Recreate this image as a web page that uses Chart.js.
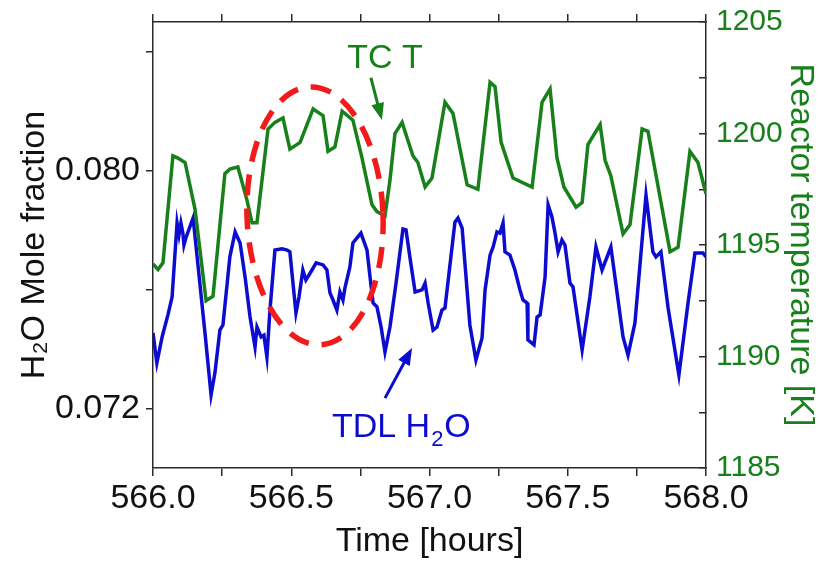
<!DOCTYPE html>
<html>
<head>
<meta charset="utf-8">
<script src="https://cdn.jsdelivr.net/npm/chart.js@4.4.0/dist/chart.umd.min.js"></script>
<style>
  body { margin: 0; background: #fff; }
</style>
</head>
<body>
<canvas id="tdlChart" width="821" height="562"></canvas>
<script>
let CHART = document.getElementById("tdlChart");

// thermocouple temperature, right axis [K]
let tcTime = [566.000, 566.018, 566.036, 566.072, 566.090, 566.116, 566.152, 566.192, 566.217, 566.260,
    566.278, 566.307, 566.340, 566.358, 566.376, 566.416, 566.441, 566.470, 566.495, 566.532,
    566.579, 566.615, 566.633, 566.658, 566.684, 566.723, 566.756, 566.792, 566.810, 566.839,
    566.857, 566.875, 566.901, 566.919, 566.940, 566.958, 566.984, 567.009, 567.056, 567.085,
    567.136, 567.175, 567.219, 567.237, 567.259, 567.302, 567.371, 567.407, 567.436, 567.461,
    567.486, 567.530, 567.552, 567.573, 567.617, 567.635, 567.656, 567.700, 567.725, 567.769,
    567.790, 567.870, 567.899, 567.942, 567.971, 568.000]
let tcTemp = [1194.15, 1193.9, 1194.2, 1199.0, 1198.9, 1198.7, 1196.6, 1192.5, 1192.7, 1198.2,
    1198.4, 1198.5, 1197.0, 1196.0, 1196.0, 1200.2, 1200.5, 1200.7, 1199.3, 1199.6,
    1201.1, 1200.8, 1199.2, 1199.4, 1201.0, 1200.6, 1198.9, 1196.8, 1196.5, 1196.3,
    1197.9, 1200.0, 1200.5, 1199.8, 1199.0, 1198.7, 1197.6, 1198.0, 1201.4, 1200.9,
    1197.7, 1197.5, 1202.3, 1202.1, 1199.6, 1198.0, 1197.6, 1201.4, 1202.0, 1198.9,
    1197.6, 1196.7, 1196.9, 1199.5, 1200.4, 1198.8, 1198.1, 1195.5, 1195.9, 1200.2,
    1200.1, 1194.7, 1194.9, 1199.2, 1198.7, 1197.3]

// TDL water mole fraction, left axis
let tdlTime = [566.000, 566.014, 566.033, 566.054, 566.069, 566.087, 566.094, 566.101, 566.108, 566.112,
    566.119, 566.145, 566.188, 566.210, 566.224, 566.242, 566.253, 566.278, 566.297, 566.315,
    566.333, 566.351, 566.369, 566.376, 566.391, 566.401, 566.412, 566.423, 566.441, 566.467,
    566.485, 566.495, 566.517, 566.528, 566.542, 566.553, 566.575, 566.590, 566.615, 566.629,
    566.640, 566.651, 566.665, 566.676, 566.687, 566.694, 566.712, 566.723, 566.752, 566.774,
    566.785, 566.796, 566.810, 566.825, 566.839, 566.857, 566.879, 566.904, 566.915, 566.929,
    566.948, 566.973, 566.984, 566.995, 567.013, 567.027, 567.045, 567.056, 567.092, 567.103,
    567.118, 567.146, 567.168, 567.190, 567.201, 567.219, 567.230, 567.244, 567.255, 567.266,
    567.273, 567.291, 567.309, 567.327, 567.338, 567.353, 567.356, 567.378, 567.389, 567.400,
    567.418, 567.429, 567.443, 567.454, 567.465, 567.479, 567.490, 567.508, 567.519, 567.552,
    567.580, 567.602, 567.624, 567.656, 567.700, 567.718, 567.743, 567.783, 567.808, 567.819,
    567.837, 567.863, 567.902, 567.935, 567.960, 567.989, 568.000]
let tdlH2O = [0.07454, 0.07353, 0.07441, 0.07515, 0.07575, 0.07824, 0.07784, 0.07824, 0.07790, 0.07750,
    0.07774, 0.07841, 0.07454, 0.07246, 0.07320, 0.07464, 0.07481, 0.07710, 0.07794, 0.07757,
    0.07642, 0.07508, 0.07407, 0.07474, 0.07441, 0.07447, 0.07373, 0.07531, 0.07733, 0.07737,
    0.07733, 0.07727, 0.07521, 0.07575, 0.07666, 0.07632, 0.07666, 0.07690, 0.07683, 0.07666,
    0.07589, 0.07565, 0.07531, 0.07592, 0.07565, 0.07605, 0.07676, 0.07757, 0.07790, 0.07733,
    0.07642, 0.07555, 0.07542, 0.07474, 0.07390, 0.07474, 0.07622, 0.07804, 0.07801, 0.07710,
    0.07592, 0.07599, 0.07622, 0.07555, 0.07464, 0.07474, 0.07531, 0.07538, 0.07827, 0.07841,
    0.07807, 0.07481, 0.07363, 0.07437, 0.07599, 0.07716, 0.07743, 0.07794, 0.07790, 0.07824,
    0.07727, 0.07716, 0.07666, 0.07599, 0.07565, 0.07555, 0.07431, 0.07414, 0.07508, 0.07515,
    0.07642, 0.07885, 0.07844, 0.07790, 0.07727, 0.07767, 0.07750, 0.07622, 0.07609, 0.07397,
    0.07575, 0.07743, 0.07666, 0.07743, 0.07441, 0.07380, 0.07488, 0.07918, 0.07727, 0.07710,
    0.07727, 0.07538, 0.07313, 0.07555, 0.07723, 0.07723, 0.07710]

// axis ticks and which of them get a label
let timeTicks = [566, 566.25, 566.5, 566.75, 567, 567.25, 567.5, 567.75, 568]
let timeLabels = [566, 566.5, 567, 567.5, 568]
let moleTicks = [0.072, 0.076, 0.080, 0.084]
let moleLabels = [0.072, 0.080]
let tempTicks = [1185, 1187.5, 1190, 1192.5, 1195, 1197.5, 1200, 1202.5, 1205]
let tempLabels = [1185, 1190, 1195, 1200, 1205]

// annotation anchors in data units
let ringCenter = [566.586, 0.07848]
let ringRadius = [0.246, 0.00434]
let tcText = [566.839, 1202.94]
let tcArrow = [566.788, 1202.5, 566.828, 1200.6]
let tdlText = [566.647, 0.07104]
let tdlArrow = [566.839, 0.07235, 566.937, 0.07404]

const GREEN = '#17801a'
const BLUE = '#0c0cd0'
const AXIS = '#2a2a2a'
const FONT = '"Liberation Sans", Arial, sans-serif'

function has(list, v) {
    return list.some(a => Math.abs(a - v) < 1e-7)
}

// keep the plot box fixed: no extra room for labels hanging over the ends
function noOverhang(s) {
    s.paddingTop = 0
    s.paddingBottom = 0
    s.paddingLeft = 0
    s.paddingRight = 0
}

function arrow(ctx, x0, y0, x1, y1, color) {
    let a = Math.atan2(y1 - y0, x1 - x0)
    let c = Math.cos(a), s = Math.sin(a)
    ctx.strokeStyle = color
    ctx.fillStyle = color
    ctx.lineWidth = 3
    ctx.setLineDash([])
    ctx.beginPath()
    ctx.moveTo(x0, y0)
    ctx.lineTo(x1 - 12 * c, y1 - 12 * s)
    ctx.stroke()
    ctx.beginPath()
    ctx.moveTo(x1, y1)
    ctx.lineTo(x1 - 17 * c + 6.5 * s, y1 - 17 * s - 6.5 * c)
    ctx.lineTo(x1 - 17 * c - 6.5 * s, y1 - 17 * s + 6.5 * c)
    ctx.closePath()
    ctx.fill()
}

const notes = {
    id: 'notes',
    afterDatasetsDraw(chart) {
        let ctx = chart.ctx
        let x = chart.scales.x, y = chart.scales.y, y1 = chart.scales.y1
        ctx.save()

        // dashed ring round the flat stretch
        let cx = x.getPixelForValue(ringCenter[0])
        let cy = y.getPixelForValue(ringCenter[1])
        let rx = x.getPixelForValue(ringCenter[0] + ringRadius[0]) - cx
        let ry = cy - y.getPixelForValue(ringCenter[1] + ringRadius[1])
        ctx.strokeStyle = '#f21a1a'
        ctx.lineWidth = 5.5
        ctx.setLineDash([21, 13])
        ctx.beginPath()
        ctx.ellipse(cx, cy, rx, ry, -0.04, 0, Math.PI * 2)
        ctx.stroke()

        // TC T label
        ctx.font = '34px ' + FONT
        ctx.textBaseline = 'alphabetic'
        ctx.textAlign = 'center'
        ctx.fillStyle = GREEN
        ctx.fillText('TC T', x.getPixelForValue(tcText[0]), y1.getPixelForValue(tcText[1]))
        arrow(ctx, x.getPixelForValue(tcArrow[0]), y1.getPixelForValue(tcArrow[1]),
            x.getPixelForValue(tcArrow[2]), y1.getPixelForValue(tcArrow[3]), GREEN)

        // TDL H2O label with subscript
        let tx = x.getPixelForValue(tdlText[0])
        let ty = y.getPixelForValue(tdlText[1])
        ctx.textAlign = 'left'
        ctx.fillStyle = BLUE
        ctx.font = '34px ' + FONT
        ctx.fillText('TDL H', tx, ty)
        tx += ctx.measureText('TDL H').width + 1
        ctx.font = '22px ' + FONT
        ctx.fillText('2', tx, ty + 9)
        tx += ctx.measureText('2').width + 1
        ctx.font = '34px ' + FONT
        ctx.fillText('O', tx, ty)
        arrow(ctx, x.getPixelForValue(tdlArrow[0]), y.getPixelForValue(tdlArrow[1]),
            x.getPixelForValue(tdlArrow[2]), y.getPixelForValue(tdlArrow[3]), BLUE)

        ctx.restore()
    }
}

let data = {
    type: 'line',
    data: {
        datasets: [
            {
                label: 'TC T',
                data: tcTime.map((t, i) => ({x: t, y: tcTemp[i]})),
                yAxisID: 'y1',
                borderColor: GREEN,
                borderWidth: 3.5,
                pointRadius: 0,
                tension: 0,
                fill: false
            },
            {
                label: 'TDL H2O',
                data: tdlTime.map((t, i) => ({x: t, y: tdlH2O[i]})),
                yAxisID: 'y',
                borderColor: BLUE,
                borderWidth: 3.5,
                pointRadius: 0,
                tension: 0,
                fill: false
            }
        ]
    },
    options: {
        responsive: false,
        animation: false,
        devicePixelRatio: 1,
        layout: { padding: 0 },
        plugins: {
            legend: { display: false },
            tooltip: { enabled: false }
        },
        scales: {
            x: {
                type: 'linear',
                position: 'bottom',
                min: 566,
                max: 568,
                afterBuildTicks: s => { s.ticks = timeTicks.map(v => ({value: v})) },
                afterFit: s => { s.height = 94; noOverhang(s) },
                ticks: {
                    autoSkip: false,
                    maxRotation: 0,
                    padding: 2,
                    color: '#111',
                    font: { size: 34, family: FONT },
                    callback: v => has(timeLabels, v) ? v.toFixed(1) : ''
                },
                grid: { drawOnChartArea: false, tickLength: 8, color: AXIS, lineWidth: 1.5 },
                border: { color: AXIS, width: 1.5 },
                title: {
                    display: true,
                    text: 'Time [hours]',
                    color: '#111',
                    font: { size: 34, family: FONT },
                    padding: { top: 0, bottom: 0 }
                }
            },
            x2: {
                type: 'linear',
                position: 'top',
                min: 566,
                max: 568,
                afterBuildTicks: s => { s.ticks = timeTicks.map(v => ({value: v})) },
                afterFit: s => { s.height = 22; noOverhang(s) },
                ticks: { display: false },
                grid: { drawOnChartArea: false, tickLength: 8, color: AXIS, lineWidth: 1.5 },
                border: { color: AXIS, width: 1.5 }
            },
            y: {
                type: 'linear',
                position: 'left',
                min: 0.070,
                max: 0.085,
                afterBuildTicks: s => { s.ticks = moleTicks.map(v => ({value: v})) },
                afterFit: s => { s.width = 153; noOverhang(s) },
                ticks: {
                    autoSkip: false,
                    padding: 6,
                    color: '#111',
                    font: { size: 34, family: FONT },
                    callback: v => has(moleLabels, v) ? v.toFixed(3) : ''
                },
                grid: { drawOnChartArea: false, tickLength: 7, color: AXIS, lineWidth: 1.5 },
                border: { color: AXIS, width: 1.5 },
                title: {
                    display: true,
                    text: 'H\u2082O Mole fraction',
                    color: '#111',
                    font: { size: 34, family: FONT },
                    padding: { top: 14, bottom: 0 }
                }
            },
            y1: {
                type: 'linear',
                position: 'right',
                min: 1185,
                max: 1205,
                afterBuildTicks: s => { s.ticks = tempTicks.map(v => ({value: v})) },
                afterFit: s => { s.width = 115; noOverhang(s) },
                ticks: {
                    autoSkip: false,
                    padding: 17,
                    color: GREEN,
                    font: { size: 30, family: FONT },
                    callback: v => has(tempLabels, v) ? String(v) : ''
                },
                grid: { drawOnChartArea: false, tickLength: -7, color: AXIS, lineWidth: 1.5 },
                border: { color: AXIS, width: 1.5 },
                title: {
                    display: true,
                    text: 'Reactor temperature [K]',
                    color: GREEN,
                    font: { size: 34, family: FONT },
                    padding: { top: 0, bottom: 0 }
                }
            }
        }
    },
    plugins: [notes]
}

new Chart(CHART, data)
</script>
</body>
</html>
